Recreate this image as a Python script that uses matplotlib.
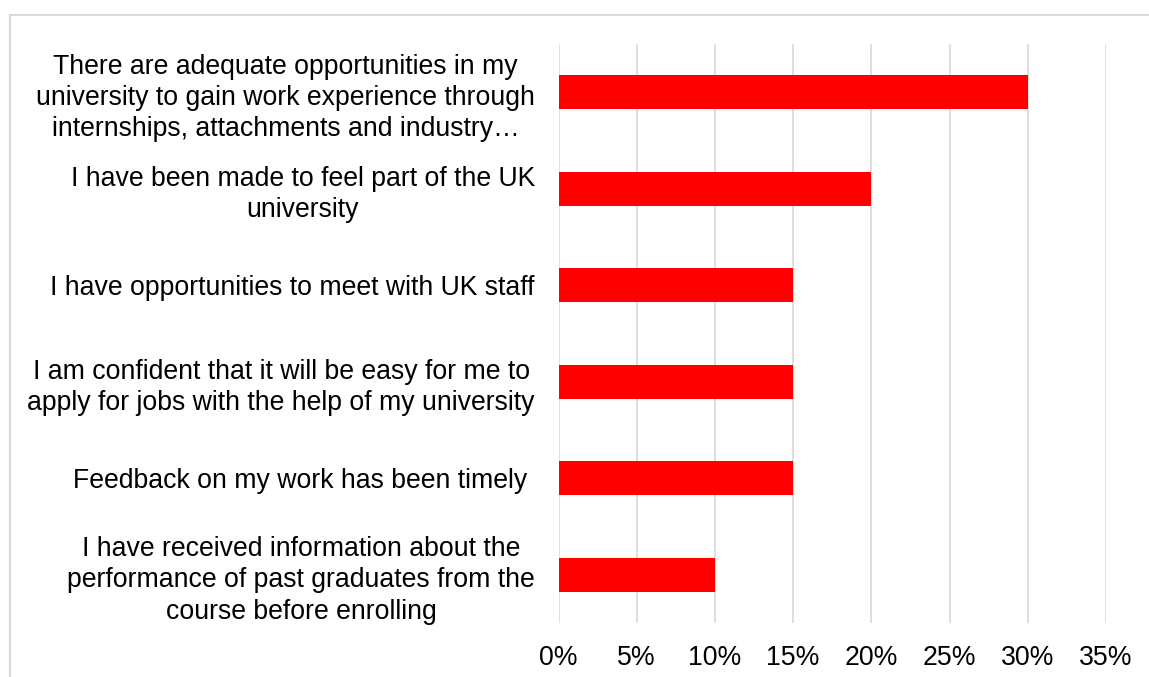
import matplotlib
matplotlib.use("Agg")
from matplotlib import pyplot as plt
from matplotlib.patches import Rectangle
from matplotlib.ticker import FuncFormatter, MultipleLocator

# Survey statements (top to bottom) and share of respondents
afirmaciones = [
    "There are adequate opportunities in my\nuniversity to gain work experience through\ninternships, attachments and industry…",
    "I have been made to feel part of the UK\nuniversity",
    "I have opportunities to meet with UK staff",
    "I am confident that it will be easy for me to\napply for jobs with the help of my university",
    "Feedback on my work has been timely ",
    "I have received information about the\nperformance of past graduates from the\ncourse before enrolling",
]
porcentajes = [0.30, 0.20, 0.15, 0.15, 0.15, 0.10]

plt.rcParams['font.family'] = ['Liberation Sans', 'DejaVu Sans']

fig = plt.figure(figsize=(11.49, 6.77), dpi=100)
ax = fig.add_axes([0.4861, 0.0798, 0.4765, 0.855])

posiciones = list(range(len(afirmaciones)))
ax.barh(posiciones, porcentajes, height=0.35, color="#FF0000", zorder=3)

ax.set_ylim(len(afirmaciones) - 0.5, -0.5)
ax.set_xlim(0, 0.35)
ax.xaxis.set_major_locator(MultipleLocator(0.05))
ax.xaxis.set_major_formatter(FuncFormatter(lambda v, p: f"{round(v * 100)}%"))
ax.set_yticks(posiciones)
ax.set_yticklabels(afirmaciones)
for etiqueta in ax.get_yticklabels():
    etiqueta.set_multialignment("center")
    etiqueta.set_linespacing(1.26)

ax.tick_params(axis="y", length=0, pad=17, labelsize=19.2)
ax.tick_params(axis="x", length=0, pad=16, labelsize=19.2)
ax.grid(axis="x", color="#d9d9d9", linewidth=1.2, zorder=0)
for lado in ax.spines.values():
    lado.set_visible(False)

# Light border around the chart area
fig.patches.append(Rectangle((9.5 / 1149, -0.1), 1.2, 1.1 - 14.5 / 677,
                             transform=fig.transFigure, fill=False,
                             edgecolor="#d9d9d9", linewidth=1.5))

fig.savefig("out.png", dpi=100)
